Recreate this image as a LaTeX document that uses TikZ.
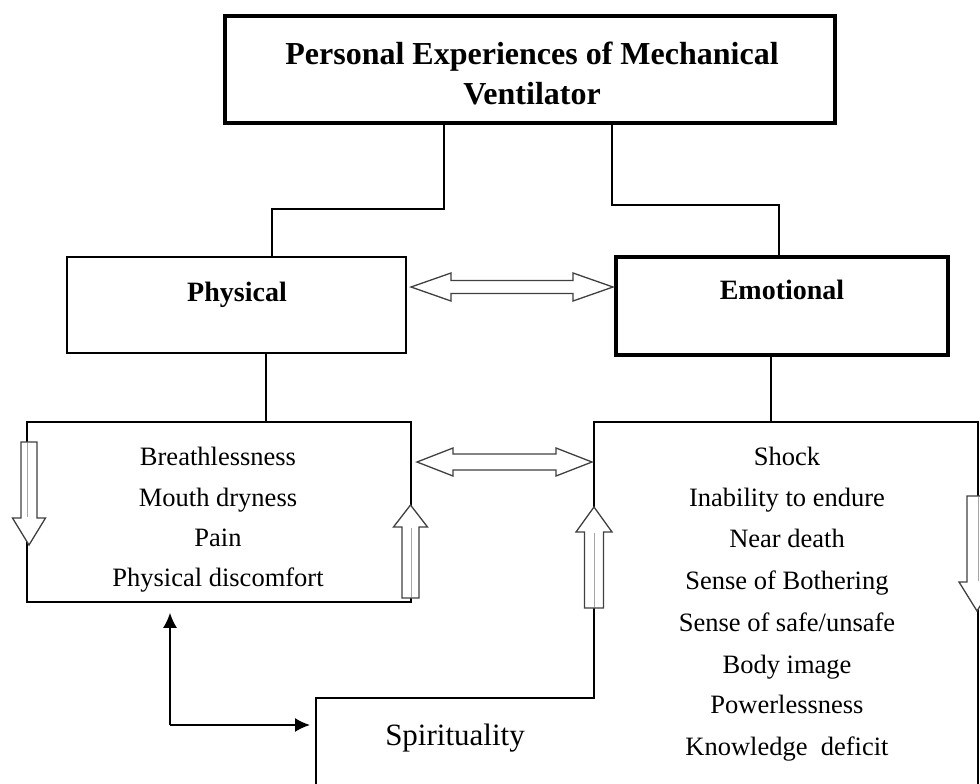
\documentclass[tikz,border=0pt]{standalone}
\usepackage{fontspec}
\setmainfont{Liberation Serif}
\usetikzlibrary{calc,arrows.meta}
\newcommand{\vblock}[6]{% x, tail y, head-base y, tip y, shaft half, head half
  \draw[blockarr] (#1-#5,#2) -- (#1-#5,#3) -- (#1-#6,#3) -- (#1,#4) -- (#1+#6,#3) -- (#1+#5,#3) -- (#1+#5,#2) -- cycle;}
\newcommand{\hdouble}[6]{% x left, x right, y centre, head length, shaft half, head half
  \draw[blockarr] (#1,#3) -- (#1+#4,#3-#6) -- (#1+#4,#3-#5) -- (#2-#4,#3-#5) -- (#2-#4,#3-#6) -- (#2,#3) -- (#2-#4,#3+#6) -- (#2-#4,#3+#5) -- (#1+#4,#3+#5) -- (#1+#4,#3+#6) -- cycle;}
\begin{document}
\begin{tikzpicture}[x=1pt,y=-1pt,
  thinbox/.style={draw, line width=1.6pt, inner sep=0pt},
  thickbox/.style={draw, line width=3.8pt, inner sep=0pt},
  conn/.style={line width=1.6pt},
  blockarr/.style={draw=black!75, line width=1.3pt, fill=white, line join=miter},
  shaftline/.style={draw=black!35, line width=1pt},
  body/.style={font=\fontsize{26.5}{30}\selectfont, anchor=base, inner sep=0pt},
  head/.style={font=\fontsize{28}{32}\selectfont\bfseries, anchor=base, inner sep=0pt},
  titletext/.style={font=\fontsize{32}{38}\selectfont\bfseries, anchor=base, inner sep=0pt},
  solidarr/.style={line width=1.8pt, -{Latex[length=15pt,width=14pt]}}
]
\useasboundingbox (0,0) rectangle (980,784);

% boxes
\node[thickbox, minimum width=610pt, minimum height=107pt] (top) at (530,69.5) {};
\node[titletext] (t1) at (532,65) {Personal Experiences of Mechanical};
\node[titletext] (t2) at (532,104) {Ventilator};

\node[thinbox, minimum width=339pt, minimum height=96pt] (phys) at (236.5,305) {};
\node[head] (physt) at (237,301) {Physical};

\node[thickbox, minimum width=332pt, minimum height=98pt] (emo) at (782,306) {};
\node[head] (emot) at (782,299) {Emotional};

\node[thinbox, minimum width=384pt, minimum height=180pt] (plist) at (219,512) {};

% combined emotional list / spirituality outline
\coordinate (spBL) at (316,790);
\coordinate (spTL) at (316,698);
\coordinate (spTR) at (594,698);
\coordinate (emoTL) at (594,422);
\coordinate (emoTR) at (978,422);
\coordinate (emoBR) at (978,790);
\draw[conn] (spBL) -- (spTL) -- (spTR) -- (emoTL) -- (emoTR) -- (emoBR);

% connectors
\coordinate (cL) at (444,209);
\coordinate (cLx) at (272,209);
\draw[conn] (top.south -| cL) -- (cL) -- (cLx) -- (cLx |- phys.north);
\coordinate (cR) at (612,205);
\coordinate (cRx) at (779,205);
\draw[conn] (top.south -| cR) -- (cR) -- (cRx) -- (cRx |- emo.north);
\coordinate (cP) at (266,0);
\draw[conn] (phys.south -| cP) -- (plist.north -| cP);
\coordinate (cE) at (771,0);
\draw[conn] (emo.south -| cE) -- (cE |- emoTR);

% texts
\node[body] (b1) at (218,465.5) {Breathlessness};
\node[body] (b2) at (218,506.5) {Mouth dryness};
\node[body] (b3) at (218,546.5) {Pain};
\node[body] (b4) at (218,586.5) {Physical discomfort};

\node[body] (e1) at (787,465.5) {Shock};
\node[body] (e2) at (787,506.5) {Inability to endure};
\node[body] (e3) at (787,547) {Near death};
\node[body] (e4) at (787,589.5) {Sense of Bothering};
\node[body] (e5) at (787,631) {Sense of safe/unsafe};
\node[body] (e6) at (787,673) {Body image};
\node[body] (e7) at (787,713.5) {Powerlessness};
\node[body] (e8) at (787,755) {Knowledge\ \ deficit};

\node[font=\fontsize{31}{36}\selectfont, anchor=base, inner sep=0pt] (spir) at (455,745) {Spirituality};

% block arrows
\hdouble{411}{613}{287}{40}{6.5}{14}
\hdouble{417}{592}{462}{36}{8}{14}
\vblock{29}{442}{518}{545}{8}{16.5}
\vblock{410.5}{598}{527}{505}{8.5}{17}
\vblock{594}{608}{532}{507}{9.5}{18}
\vblock{977}{496}{582}{611}{10}{18}
\draw[shaftline] (27,443) -- (27,517);
\draw[shaftline] (411,528) -- (411,597);
\draw[shaftline] (594,533) -- (594,607);
\draw[shaftline] (978,497) -- (978,581);

% solid arrows
\coordinate (corner) at (170,725);
\draw[solidarr] (corner) -- ($(corner |- plist.south)+(0,10)$);
\draw[solidarr] (corner) -- ($(corner -| spTL)+(-6,0)$);
\end{tikzpicture}
\end{document}
